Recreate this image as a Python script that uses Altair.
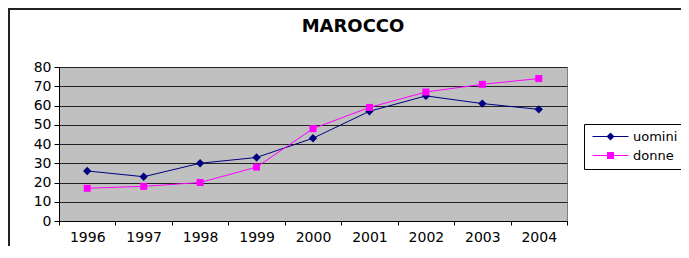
import altair as alt
import pandas as pd

# ---- data ----
anni = ["1996", "1997", "1998", "1999", "2000", "2001", "2002", "2003", "2004"]
uomini = [26, 23, 30, 33, 43, 57, 65, 61, 58]
donne = [17, 18, 20, 28, 48, 59, 67, 71, 74]
serie = ["uomini", "donne"]
colori = ["#000080", "#FF00FF"]
y_ticks = [0, 10, 20, 30, 40, 50, 60, 70, 80]
titolo = "MAROCCO"

df = pd.DataFrame({
    "anno": anni * 2,
    "serie": ["uomini"] * len(anni) + ["donne"] * len(anni),
    "valore": uomini + donne,
})

FONT = "DejaVu Sans"

# legend symbols: a short line with the series marker in the middle
path_u = "M-4.5,-0.125H4.5V0.125H-4.5ZM0,-1L1,0L0,1L-1,0Z"
path_d = "M-4.5,-0.125H4.5V0.125H-4.5ZM-0.875,-0.875H0.875V0.875H-0.875Z"

x_enc = alt.X(
    "anno:N", sort=anni, bandPosition=0.5,
    scale=alt.Scale(type="band", domain=anni, paddingInner=0, paddingOuter=0),
    axis=alt.Axis(title=None, labelAngle=0, tickBand="extent", tickSize=4,
                  domainColor="#000", tickColor="#000", labelColor="#000",
                  labelFont=FONT, labelFontSize=14, labelPadding=5, grid=False),
)
y_enc = alt.Y(
    "valore:Q", scale=alt.Scale(domain=[0, 80], nice=False),
    axis=alt.Axis(title=None, values=y_ticks, tickSize=5, labelPadding=3,
                  domainColor="#000", tickColor="#000", labelColor="#000",
                  labelFont=FONT, labelFontSize=14, grid=True,
                  gridColor="#222", gridWidth=1, gridOpacity=1),
)
col_scale = alt.Scale(domain=serie, range=colori)

leg_props = dict(
    title=None, orient="none", legendX=525, legendY=57, padding=6,
    strokeColor="#000", fillColor="#FFFFFF", symbolSize=64,
    symbolStrokeWidth=0, symbolOpacity=1, symbolOffset=14, labelOffset=16,
    labelFont=FONT, labelFontSize=13, labelColor="#000", rowPadding=5,
)

base = alt.Chart(df)

frame = alt.Chart(pd.DataFrame({"f": [0]})).mark_rect(
    fillOpacity=0, stroke="#222", strokeWidth=2
).encode(
    x=alt.value(-50), x2=alt.value(720), y=alt.value(-58), y2=alt.value(320)
)

title_text = alt.Chart(pd.DataFrame({"t": [titolo]})).mark_text(
    font=FONT, fontSize=18, fontWeight="bold", color="#000",
    align="center", baseline="alphabetic"
).encode(
    text="t:N", x=alt.value(294), y=alt.value(-35)
)

lines = base.mark_line(strokeWidth=1).encode(
    x=x_enc, y=y_enc,
    color=alt.Color("serie:N", scale=col_scale),
)

points = base.mark_point(filled=True, opacity=1).encode(
    x=x_enc, y=y_enc,
    color=alt.Color("serie:N", scale=col_scale),
    shape=alt.condition("datum.serie === 'uomini'", alt.value("diamond"), alt.value("square")),
    size=alt.condition("datum.serie === 'uomini'", alt.value(70), alt.value(49)),
)

legend_layer = base.mark_point(filled=True, opacity=1).encode(
    x=x_enc, y=y_enc,
    color=alt.Color("serie:N", scale=col_scale, legend=alt.Legend(**leg_props)),
    shape=alt.Shape("serie:N", scale=alt.Scale(domain=serie, range=[path_u, path_d]),
                    legend=alt.Legend(**leg_props)),
).transform_filter("false")

chart = alt.layer(frame, title_text, legend_layer, lines, points).properties(
    width=508, height=154,
    padding={"left": 51, "top": 59, "right": 114, "bottom": 25},
    autosize=alt.AutoSizeParams(type="none"),
).configure_view(
    fill="#C0C0C0", stroke="#808080", strokeWidth=1
)

chart.save("out.html", embed_options={"renderer": "svg", "actions": False})
